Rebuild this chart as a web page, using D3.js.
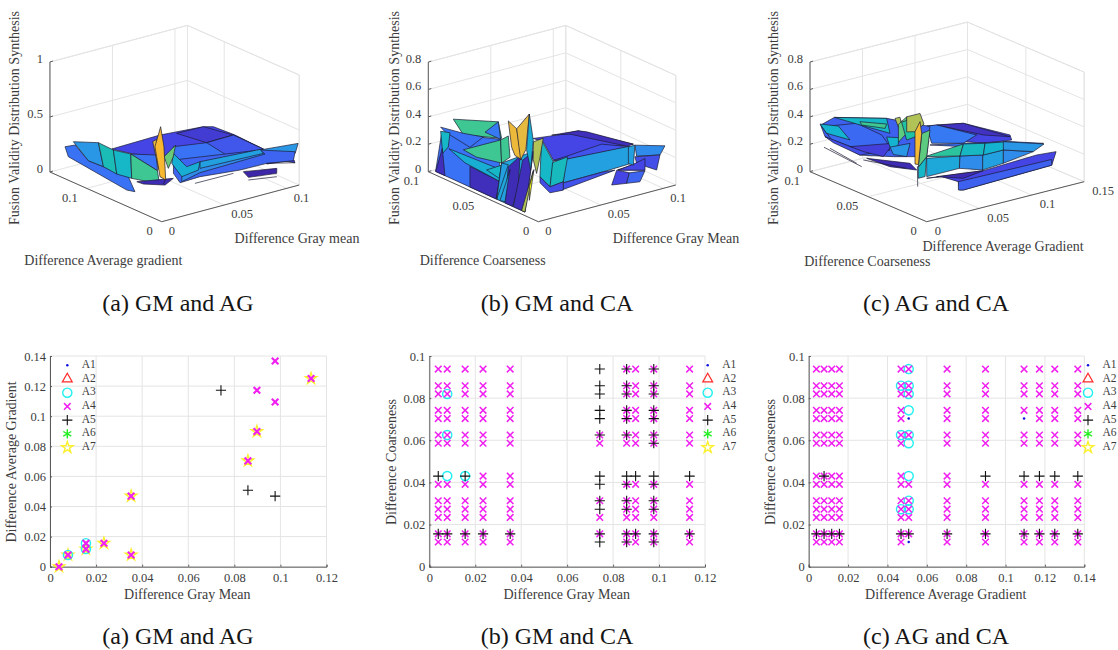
<!DOCTYPE html>
<html>
<head>
<meta charset="utf-8">
<title>Fusion validity</title>
<script src="https://cdnjs.cloudflare.com/ajax/libs/d3/7.8.5/d3.min.js"></script>
<style>
body { margin: 0; background: #fff; }
text { font-family: "Liberation Serif", serif; fill: #3c3c3c; }
text.caption { fill: #151515; }
</style>
</head>
<body>
<svg id="chart" width="1118" height="650"></svg>
<script>
// surface patches: [colour value, [x, y, z], [x, y, z], ...], back to front. colour value null = bare wire
var surfaceA = [
  [.1,[.032,.12,.2],[.0719,.1221,.2],[.103,.116,.2],[.108,.111,.2],[.1094,.0846,.2],[.1078,.0442,.2],[.0821,.0769,.2],[.0475,.0815,.2],[.0372,.0998,.2]],
  [.07,[.0821,.1169,.2],[.103,.116,.2],[.1086,.0854,.2],[.0866,.0844,.2]],
  [.2,[.0655,.0935,.2],[.0866,.0844,.2],[.1086,.0854,.2],[.1078,.0442,.2],[.1004,.0406,.2],[.0818,.0452,.2],[.06,.049,.2],[.0442,.0448,.2],[.0505,.0685,.2]],
  [.14,[.0866,.0844,.2],[.1086,.0854,.2],[.1078,.0442,.2],[.0818,.0452,.2]],
  [.08,[.0992,.0298,.2],[.1081,.0025,.2],[.1108,.0082,.2],[.0926,.0144,.2]],
  [.3,[.105,.044,.2],[.113,.0064,.35],[.109,.0037,.28],[.0979,.0231,.2]],
  [.17,[.0505,.0685,.2],[.105,.044,.2],[.1108,.0068,.28],[.1097,.0073,.2],[.0934,.0156,.2],[.0725,.0165,.2],[.045,.024,.2],[.0283,.0227,.2],[.0355,.0435,.2]],
  [0,[.0723,.0117,.2],[.0928,.0012,.2],[.0933,.0022,.15],[.0747,.0088,.15]],
  [null,[.035,.014,.2],[.0655,.0135,.2]],
  [null,[.0778,.0142,.1],[.0958,.0062,.1]],
  [null,[.0934,.0156,.2],[.1083,.0027,.2]],
  [.27,[.0434,.0456,.2],[.06,.049,.2],[.105,.044,.2],[.103,.034,.2],[.0495,.0315,.2],[.0303,.0237,.2]],
  [.33,[.0619,.0521,.2],[.1058,.0452,.2],[.103,.036,.2],[.0544,.0396,.2]],
  [.38,[.058,.081,.2],[.0496,.0494,.2],[.0619,.0521,.2],[.0517,.0373,.2],[.0359,.0331,.2],[.0459,.0631,.2]],
  [.2,[.0113,.1477,.2],[.0182,.1458,.2],[.0072,.1098,.2],[.0092,.0598,.2],[.008,.049,.1],[.0058,.0562,.1],[.0017,.1273,.2]],
  [.3,[.0186,.1488,.22],[.0325,.1385,.2],[.008,.091,.2],[.0072,.1098,.2]],
  [.46,[.0325,.1385,.2],[.0317,.1173,.2],[.0064,.0706,.2],[.008,.091,.2]],
  [.42,[.0317,.1173,.2],[.0359,.1011,.2],[.009,.055,.2],[.0064,.0706,.2]],
  [.2,[.0359,.1011,.2],[.0478,.0862,.2],[.0305,.0565,.2]],
  [.55,[.0359,.1011,.2],[.0305,.0565,.2],[.0165,.0305,.2],[.009,.055,.2]],
  [.02,[.0078,.0462,.2],[.0298,.0342,.2],[.0182,.0258,.2],[.0085,.0385,.2]],
  [null,[.0362,.0558,.1],[.0185,.0285,.2]],
  [.62,[.0372,.0588,.3],[.0561,.0749,.3],[.0418,.0542,.3],[.0262,.0348,.3]],
  [.82,[.036,.072,.4],[.0406,.0744,.4],[.0394,.0626,.1],[.046,.081,.1]],
  [.88,[.0321,.0549,.6],[.036,.057,.4],[.0365,.0555,.1],[.0374,.0646,.1],[.0315,.0615,.4]]
];
var surfaceB = [
  [.1,[.067,.0807,.15],[.0825,.077,.15],[.0982,.0752,.15],[.1111,.0399,.15],[.0895,.0457,.15],[.0531,.0466,.15],[.0683,.0731,.15]],
  [.03,[.08,.0787,.15],[.0982,.0752,.15],[.1013,.0711,.15],[.1111,.0399,.15],[.1056,.0396,.15],[.0903,.0738,.15]],
  [.13,[.0523,.0458,.15],[.0951,.0506,.15],[.1065,.0377,.15],[.0605,.043,.15]],
  [.1,[.0745,.0127,.15],[.0882,.0032,.15],[.0911,.0144,.15]],
  [.27,[.1108,.0381,.15],[.11,.0099,.25],[.105,.0087,.2],[.0995,.0237,.15]],
  [.12,[.0979,.0234,.15],[.105,.0087,.2],[.1018,.0081,.1],[.0914,.0144,.15]],
  [.1,[.0905,.015,.15],[.1011,.0179,.15],[.0882,.0032,.15],[.0747,.0122,.15]],
  [.33,[.0597,.0436,.15],[.1072,.0385,.15],[.0883,.0164,.15],[.0653,.0151,.15],[.033,.0147,.15]],
  [.33,[.1057,.0382,.15],[.1108,.0381,.15],[.0879,.0134,.15],[.0872,.0172,.15]],
  [.13,[.033,.0147,.15],[.0653,.0151,.15],[.073,.0133,.15],[.0255,.0063,.15]],
  [.42,[.0693,.0758,.15],[.0512,.0445,.15],[.0218,.0141,.15],[.0278,.0301,.15]],
  [.44,[.0501,.0439,.15],[.064,.046,.15],[.034,.016,.15],[.0218,.0141,.15]],
  [.12,[.0278,.0301,.15],[.0218,.0141,.15],[.034,.016,.15],[.0248,.0055,.15],[.0151,.0066,.15],[.0212,.0225,.15]],
  [.1,[.0739,.0127,.15],[.0773,.0051,.15],[.0719,.0014,.1],[.0625,.0043,.1]],
  [.17,[.0773,.0051,.15],[.0874,.0024,.15],[.0834,.0024,.08],[.0719,.0014,.1]],
  [.2,[.004,.0924,.3],[.004,.0388,.45],[.004,.0409,0],[.004,.0979,0]],
  [.55,[.004,.0818,.44],[.004,.0409,.57],[.004,.0379,.46],[.004,.0727,.36]],
  [.22,[.004,.0409,.57],[.004,.0388,.45],[.004,.053,.45]],
  [.2,[.004,.0933,.34],[.004,.0727,.37],[.004,.0545,.41],[.004,.0667,.29],[.004,.0894,.32]],
  [.42,[.004,.0933,.31],[.004,.0848,.33],[.004,.0864,.22],[.004,.0915,.155]],
  [.03,[.004,.0918,.19],[.004,.0979,0],[.004,.0894,0]],
  [.03,[.004,.0667,.15],[.004,.04,.14],[.004,.043,0],[.004,.0667,0]],
  [.38,[.004,.0858,.21],[.004,.0379,.23],[.004,.04,.14],[.004,.0712,.16]],
  [.55,[.004,.0727,.25],[.004,.0388,.445],[.004,.0379,.28],[.004,.0606,.24]],
  [.42,[.004,.0515,.18],[.004,.0379,.265],[.004,.04,.16]],
  [.35,[.004,.0379,.28],[.004,.0091,.47],[.004,.0167,0],[.004,.0424,0]],
  [.33,[.004,.0379,.28],[.004,.0318,.29],[.004,.0424,0]],
  [.55,[.004,.0388,.445],[.004,.0318,.5],[.004,.0303,.35],[.004,.0379,.28]],
  [.02,[.004,.0318,.275],[.004,.0212,.39],[.004,.0227,.16],[.004,.0279,0],[.004,.0348,0]],
  [.33,[.004,.0333,.17],[.004,.0303,.26],[.004,.0348,.01],[.004,.0394,0]],
  [.03,[.004,.0188,.37],[.004,.0091,.47],[.004,.0167,0],[.004,.0273,0]],
  [.72,[.004,.0091,.54],[.004,0,.6],[.004,.003,.45],[.004,.0061,.32],[.004,.0091,.41]],
  [.72,[.004,.0197,0],[.004,.0091,.33],[.004,.0121,.2],[.004,.0167,0]],
  [1,[.004,.0127,.2],[.004,.0085,.34],[.004,.0127,.1]],
  [.83,[.004,.0318,.61],[.004,.0242,.58],[.004,.0197,.37],[.004,.0258,.38],[.004,.0288,.43]],
  [.8,[.004,.0242,.58],[.004,.0127,.73],[.004,.0145,.58],[.004,.0158,.46],[.004,.0206,.365]],
  [.38,[.004,.0127,.73],[.004,.0091,.55],[.004,.0115,.325],[.004,.0152,.46]]
];
var surfaceC = [
  [.1,[.0953,.0858,.2],[.121,.0775,.2],[.1326,.0479,.2],[.1266,.0411,.2],[.105,.046,.2],[.0898,.0608,.2],[.0808,.0756,.2]],
  [.04,[.1027,.0839,.2],[.121,.0775,.2],[.1303,.0458,.2],[.1167,.0564,.2]],
  [.22,[.0953,.0858,.2],[.1027,.0839,.2],[.1127,.0586,.2],[.0931,.0524,.2],[.0742,.0625,.2]],
  [.2,[.0708,.0609,.2],[.0931,.0524,.2],[.1233,.0396,.2],[.1409,.0268,.2],[.1097,.0302,.2],[.0884,.0482,.2]],
  [.1,[.0414,.0373,.1],[.086,.0288,.1],[.1207,.0143,.2],[.1369,.0123,.2],[.125,.0053,.15],[.047,.0109,.1],[.0447,.0122,.1],[.0557,.023,.1],[.0527,.0346,.1]],
  [.16,[.0557,.023,.1],[.1329,.0125,.15],[.125,.0053,.15],[.047,.0109,.1],[.0441,.0125,.1]],
  [.02,[.0497,.0362,.1],[.086,.0288,.1],[.0633,.0256,.1]],
  [.36,[.0502,.0452,.2],[.0734,.0375,.2],[.0558,.0222,.2],[.0247,.0222,.2]],
  [.27,[.0734,.0375,.2],[.0884,.0315,.2],[.0674,.0127,.2],[.0558,.0222,.2]],
  [.33,[.0884,.0315,.2],[.1077,.0312,.2],[.0891,.0145,.2],[.0674,.0127,.2]],
  [.27,[.1077,.0312,.2],[.1233,.0196,.2],[.0891,.0145,.2]],
  [.52,[.0516,.0478,.2],[.0922,.0515,.2],[.0734,.0375,.2]],
  [.43,[.0922,.0515,.2],[.106,.0454,.2],[.0888,.0313,.2],[.0734,.0375,.2]],
  [.4,[.106,.0454,.2],[.1213,.0406,.2],[.1077,.0312,.2],[.0888,.0313,.2]],
  [.3,[.1193,.0417,.2],[.1404,.0258,.2],[.1233,.0196,.2],[.1077,.0312,.2]],
  [.16,[.0084,.0984,.33],[.0215,.0985,.36],[.0514,.0806,.36],[.0773,.0668,.3],[.0526,.0473,.2],[.0326,.0579,.2],[.0052,.0619,.25],[.0006,.0877,.3]],
  [.02,[.0334,.0815,.1],[.0524,.0614,.1],[.047,.0509,.1],[.0357,.0636,.1]],
  [null,[.0042,.0918,.2],[.0188,.0726,.1]],
  [null,[.0064,.0886,.2],[.0205,.0784,.1]],
  [null,[.0291,.0805,.1],[.0434,.0562,.1]],
  [.18,[.0067,.096,.33],[.0381,.0943,.3],[.0368,.0717,.3],[.0255,.0544,.3],[.0029,.0598,.3],[.0005,.0819,.3]],
  [.42,[.0215,.0985,.36],[.0514,.0806,.36],[.0441,.0711,.3],[.0378,.0912,.3]],
  [.55,[.0308,.0849,.36],[.0435,.0735,.36],[.0365,.0685,.36],[.0272,.0802,.36]],
  [.4,[.0094,.0999,.33],[.0176,.0915,.33],[.0109,.0755,.3],[.0062,.0913,.3]],
  [.12,[.0006,.0877,.3],[.0016,.0671,.3],[.0209,.0502,.3],[.0052,.0619,.25],[.0028,.0825,.27]],
  [.08,[.0016,.0671,.3],[.0322,.0575,.3],[.0076,.044,.3],[.0026,.0566,.3]],
  [.4,[.0063,.04,.46],[.019,.04,.43],[.0159,.04,.35],[.0095,.04,.38]],
  [.3,[.0095,.04,.38],[.0286,.04,.37],[.0254,.04,.28],[.0127,.04,.32]],
  [.72,[.0143,.04,.58],[.019,.04,.58],[.0206,.04,.52],[.0175,.04,.51]],
  [.6,[.0175,.04,.53],[.0254,.04,.57],[.0254,.04,.45],[.0175,.04,.4]],
  [.5,[.0206,.04,.54],[.0317,.04,.55],[.0349,.04,.41],[.0254,.04,.4]],
  [.72,[.0254,.04,.57],[.0381,.04,.57],[.0419,.04,.485],[.0333,.04,.446],[.0254,.04,.46]],
  [.6,[.0397,.04,.42],[.0476,.04,.43],[.0444,.04,.24],[.0365,.04,.18]],
  [.42,[.0365,.04,.18],[.0444,.04,.24],[.0429,.04,.1],[.0365,.04,.1]],
  [.86,[.0333,.04,.446],[.0381,.04,.51],[.0397,.04,.42],[.0365,.04,.2],[.0333,.04,.21]],
  [null,[.0356,.04,.19],[.0359,.04,.04]]
];

var parulaStops = ["#3e26a8", "#4545e6", "#3a72f5", "#2a97e6", "#14b4d0", "#20c2a4", "#5ccb80", "#a4c65c", "#e6b93f", "#fdb92e", "#f9fb15"];

// scatter (a): difference gray mean / difference average gradient
var a3PointsA = [[.0078,.0078],[.0156,.0117],[.0156,.0156]];
var a4PointsA = [[.0039,0],[.0078,.0078],[.0156,.0117],[.0156,.0156],[.0234,.0156],[.0352,.0078],[.0352,.0469],[.0859,.0703],[.0898,.0898],[.0977,.1094],[.0898,.1172],[.0977,.1367],[.1133,.125]];
var a5PointsA = [[.0742,.1172],[.0859,.0508],[.0977,.0469]];
var a7PointsA = [[.0039,0],[.0078,.0078],[.0156,.0117],[.0234,.0156],[.0352,.0078],[.0352,.0469],[.0859,.0703],[.0898,.0898],[.1133,.125]];

// scatter (b) and (c) share the coarseness rows
// m = A4, p = A5, b = A4 and A5, c = A3, d = A4 and A3, e = A3 and A5, a = A1
var coarseRows = [.0938,.0859,.082,.0742,.0703,.0625,.0586,.043,.0391,.0313,.0273,.0234,.0156,.0117];
var grayColumns = [.0039,.0078,.0156,.0234,.0352,.0742,.0859,.0898,.0977,.1133];
var gradientColumns = [.0039,.0078,.0117,.0156,.0469,.0508,.0703,.0898,.1094,.1172,.125,.1367];
var classesB = [
  "mmmmmpbmbm",
  "mmmmmpbmbm",
  "mdmmmpbmbm",
  "mmmmmpbmbm",
  "mmmmmpbmbm",
  "mdmmmbbmbm",
  "mmmmmmmmbm",
  "pcemmppppp",
  "mmmmmpbmbm",
  "mmmmmbbmbm",
  "mmmmmpbmbm",
  "mmmmmmmmmm",
  "bbbbbbbbbb",
  "mmmmmpbmbm"
];
var classesC = [
  "mmmmmdmmmmmm",
  "mmmmddmmmmmm",
  "mmmmmdmmmmmm",
  "mmmmmcmmmmmm",
  "mmmmmammammm",
  "mmmmddmmmmmm",
  "mmmmmcmmmmmm",
  "mbmmmcmppppp",
  "mmmmmmmmmmmm",
  "mmmmmdmmmmmm",
  "mmmmddmmmmmm",
  "mmmmmmmmmmmm",
  "bbbbbbbbbbbb",
  "mmmmmammmmmm"
];

var legendNames = ["A1", "A2", "A3", "A4", "A5", "A6", "A7"];
var captions = ["(a) GM and AG", "(b) GM and CA", "(c) AG and CA"];

var svg = d3.select("#chart");
var gridColor = "#e4e4e4", axisColor = "#5a5a5a", edgeColor = "#1c1c34";

var surfaceColor = d3.scaleLinear()
  .domain(parulaStops.map(function(d, i){ return i / 10; }))
  .range(parulaStops);

function label(x, y, str, size, anchor, rotate){
  var t = svg.append("text")
    .attr("x", x).attr("y", y)
    .attr("font-size", size)
    .attr("text-anchor", anchor || "middle")
    .attr("dominant-baseline", "middle")
    .text(str);
  if(rotate) t.attr("transform", "rotate(-90 " + x + " " + y + ")");
  return t;
}

function drawSurface(p){
  var xH = d3.scaleLinear([0, p.xMax], [0, p.xRun[0]]), xV = d3.scaleLinear([0, p.xMax], [0, p.xRun[1]]);
  var yH = d3.scaleLinear([0, p.yMax], [0, p.yRun[0]]), yV = d3.scaleLinear([0, p.yMax], [0, p.yRun[1]]);
  var zV = d3.scaleLinear([0, p.zMax], [0, -p.zRun]);
  function project(d){
    return [p.ox + xH(d[0]) + yH(d[1]), p.oy + xV(d[0]) + yV(d[1]) + zV(d[2])];
  }
  var g = svg.append("g");
  var line = d3.line(), closed = d3.line().curve(d3.curveLinearClosed);
  function seg(a, b, color, w){
    g.append("path").attr("d", line([project(a), project(b)]))
      .attr("fill", "none").attr("stroke", color).attr("stroke-width", w);
  }
  // back walls and floor
  p.xTicks.forEach(function(t){
    seg([t,0,0], [t,p.yMax,0], gridColor, 1);
    seg([t,p.yMax,0], [t,p.yMax,p.zMax], gridColor, 1);
  });
  p.yTicks.forEach(function(t){
    seg([0,t,0], [p.xMax,t,0], gridColor, 1);
    seg([p.xMax,t,0], [p.xMax,t,p.zMax], gridColor, 1);
  });
  p.zTicks.forEach(function(t){
    seg([0,p.yMax,t], [p.xMax,p.yMax,t], gridColor, 1);
    seg([p.xMax,p.yMax,t], [p.xMax,0,t], gridColor, 1);
  });
  seg([p.xMax,p.yMax,0], [p.xMax,p.yMax,p.zMax], gridColor, 1);
  seg([p.xMax,0,0], [p.xMax,0,p.zMax], gridColor, 1);
  seg([0,p.yMax,p.zMax], [p.xMax,p.yMax,p.zMax], gridColor, 1);
  seg([p.xMax,p.yMax,p.zMax], [p.xMax,0,p.zMax], gridColor, 1);

  seg([0,0,0], [p.xMax,0,0], axisColor, 1);
  seg([0,0,0], [0,p.yMax,0], axisColor, 1);
  seg([0,p.yMax,0], [0,p.yMax,p.zMax], axisColor, 1);

  p.surface.forEach(function(patch){
    var pts = patch.slice(1).map(project);
    if(patch[0] === null){
      g.append("path").attr("d", line(pts)).attr("fill", "none")
        .attr("stroke", edgeColor).attr("stroke-width", .7);
    }else{
      g.append("path").attr("d", closed(pts)).attr("fill", surfaceColor(patch[0]))
        .attr("stroke", edgeColor).attr("stroke-width", .7).attr("stroke-linejoin", "round");
    }
  });

  p.zTicks.forEach(function(t){
    var q = project([0, p.yMax, t]);
    label(q[0] - 7, q[1] - 2, String(t), 12.5, "end");
    g.append("path").attr("d", line([q, [q[0] + 3, q[1] - 1]])).attr("stroke", axisColor);
  });
  p.xTicks.forEach(function(t){
    var q = project([t, 0, 0]);
    label(q[0] + p.tickGap, q[1] + 10.5, String(t), 12.5, "start");
  });
  p.yTicks.forEach(function(t){
    var q = project([0, t, 0]);
    label(q[0] - p.tickGap - 2, q[1] + 10.5, String(t), 12.5, "end");
  });
  label(p.zLabel[0], p.zLabel[1], "Fusion Validity Distribution Synthesis", 14, "middle", true);
  label(p.xLabel[0], p.xLabel[1], p.xName, 14);
  label(p.yLabel[0], p.yLabel[1], p.yName, 14);
}

drawSurface({surface: surfaceA, ox: 161.7, oy: 221.7,
  xMax: .11, xRun: [137.5, -36.67], yMax: .149, yRun: [-111.75, -49.67], zMax: 1, zRun: 110,
  xTicks: [0, .05, .1], yTicks: [0, .1], zTicks: [0, .5, 1], tickGap: 7,
  xName: "Difference Gray mean", yName: "Difference Average gradient",
  xLabel: [297, 240], yLabel: [103.3, 261.7], zLabel: [16, 118]});
drawSurface({surface: surfaceB, ox: 538.3, oy: 221.7,
  xMax: .11, xRun: [137.5, -36.67], yMax: .1, yRun: [-110, -50], zMax: .8, zRun: 109.6,
  xTicks: [0, .05, .1], yTicks: [0, .05, .1], zTicks: [0, .2, .4, .6, .8], tickGap: 7,
  xName: "Difference Gray Mean", yName: "Difference Coarseness",
  xLabel: [676, 240], yLabel: [482.7, 261.7], zLabel: [396, 118]});
drawSurface({surface: surfaceC, ox: 926.7, oy: 221.7,
  xMax: .15, xRun: [157.5, -40], yMax: .1, yRun: [-116.7, -50], zMax: .8, zRun: 109.6,
  xTicks: [0, .05, .1, .15], yTicks: [0, .05, .1], zTicks: [0, .2, .4, .6, .8], tickGap: 8,
  xName: "Difference Average Gradient", yName: "Difference Coarseness",
  xLabel: [1003, 247.3], yLabel: [867.3, 262.3], zLabel: [774.3, 118]});

// marker styles keyed by legend name
var markerStyles = {
  A1: {type: d3.symbolCircle, size: 5, fill: "#1010e0", stroke: "none", w: 0},
  A2: {type: d3.symbolTriangle2, size: 70, fill: "none", stroke: "#ff2a2a", w: 1.2},
  A3: {type: d3.symbolCircle, size: 66, fill: "none", stroke: "#22f0f0", w: 1.4},
  A4: {type: d3.symbolTimes, size: 30, fill: "none", stroke: "#f01ef0", w: 1.5},
  A5: {type: d3.symbolPlus, size: 36, fill: "none", stroke: "#111", w: 1.1},
  A6: {type: d3.symbolAsterisk, size: 60, fill: "none", stroke: "#22ee22", w: 1.4},
  A7: {type: d3.symbolStar, size: 40, fill: "none", stroke: "#fbf02c", w: 1.4}
};

function drawMarker(g, name, x, y, bold){
  var s = markerStyles[name];
  g.append("path")
    .attr("transform", "translate(" + x + "," + y + ")")
    .attr("d", d3.symbol(s.type, s.size)())
    .attr("fill", s.fill).attr("stroke", s.stroke).attr("stroke-width", s.w + (bold || 0));
}

function tableToSeries(classes, columns, rows){
  var series = {A1: [], A3: [], A4: [], A5: []};
  var codes = {m: ["A4"], p: ["A5"], b: ["A4", "A5"], c: ["A3"], d: ["A4", "A3"], e: ["A3", "A5"], a: ["A1"]};
  classes.forEach(function(row, r){
    row.split("").forEach(function(code, c){
      codes[code].forEach(function(name){ series[name].push([columns[c], rows[r]]); });
    });
  });
  return series;
}

function drawScatter(p){
  var x = d3.scaleLinear([0, p.xMax], [p.left, p.right]);
  var y = d3.scaleLinear([0, p.yMax], [566.7, 356]);
  var g = svg.append("g");
  p.xTicks.forEach(function(t){
    g.append("line").attr("x1", x(t)).attr("x2", x(t)).attr("y1", y(0)).attr("y2", y(p.yMax)).attr("stroke", gridColor);
  });
  p.yTicks.forEach(function(t){
    g.append("line").attr("x1", x(0)).attr("x2", x(p.xMax)).attr("y1", y(t)).attr("y2", y(t)).attr("stroke", gridColor);
  });
  var ax = g.append("g").attr("transform", "translate(0,566.7)")
    .call(d3.axisBottom(x).tickValues(p.xTicks).tickSize(-2).tickFormat(String));
  var ay = g.append("g").attr("transform", "translate(" + p.left + ",0)")
    .call(d3.axisLeft(y).tickValues(p.yTicks).tickSize(-2).tickFormat(String));
  [ax, ay].forEach(function(a){
    a.select(".domain").attr("stroke", axisColor);
    a.selectAll(".tick line").attr("stroke", axisColor);
    a.selectAll("text").attr("font-size", 12.5).attr("font-family", null);
  });
  ax.selectAll("text").attr("dy", null).attr("y", 7).attr("dominant-baseline", "hanging");
  ay.selectAll("text").attr("x", -4).attr("dy", ".32em");

  ["A7", "A3", "A4", "A5", "A1"].forEach(function(name){
    (p.series[name] || []).forEach(function(d){
      drawMarker(g, name, x(d[0]), y(d[1]), name === "A4" ? p.boldX : 0);
    });
  });
  legendNames.forEach(function(name, i){
    var ly = 365.3 + i * 13.7;
    drawMarker(g, name, p.legendX, ly);
    label(p.legendX + 14.5, ly, name, 11.5, "start");
  });
  label(p.xLabel, 595.7, p.xName, 14);
  label(p.yLabelX, 462, p.yName, 14, "middle", true);
}

drawScatter({left: 50, right: 326.5, xMax: .12, yMax: .14,
  xTicks: [0, .02, .04, .06, .08, .1, .12], yTicks: [0, .02, .04, .06, .08, .1, .12, .14],
  series: {A3: a3PointsA, A4: a4PointsA, A5: a5PointsA, A7: a7PointsA}, boldX: .6,
  legendX: 67.3, xName: "Difference Gray Mean", yName: "Difference Average Gradient", xLabel: 187.3, yLabelX: 13});
drawScatter({left: 429.3, right: 705, xMax: .12, yMax: .1,
  xTicks: [0, .02, .04, .06, .08, .1, .12], yTicks: [0, .02, .04, .06, .08, .1],
  series: tableToSeries(classesB, grayColumns, coarseRows), boldX: 0,
  legendX: 707.7, xName: "Difference Gray Mean", yName: "Difference Coarseness", xLabel: 566.7, yLabelX: 392.3});
drawScatter({left: 808.7, right: 1084.3, xMax: .14, yMax: .1,
  xTicks: [0, .02, .04, .06, .08, .1, .12, .14], yTicks: [0, .02, .04, .06, .08, .1],
  series: tableToSeries(classesC, gradientColumns, coarseRows), boldX: 0,
  legendX: 1088, xName: "Difference Average Gradient", yName: "Difference Coarseness", xLabel: 945.7, yLabelX: 771.7});

var captionX = [178, 557, 936];
captions.forEach(function(c, i){
  label(captionX[i], 305, c, 24).attr("class", "caption");
  label(captionX[i], 638, c, 24).attr("class", "caption");
});
</script>
</body>
</html>
